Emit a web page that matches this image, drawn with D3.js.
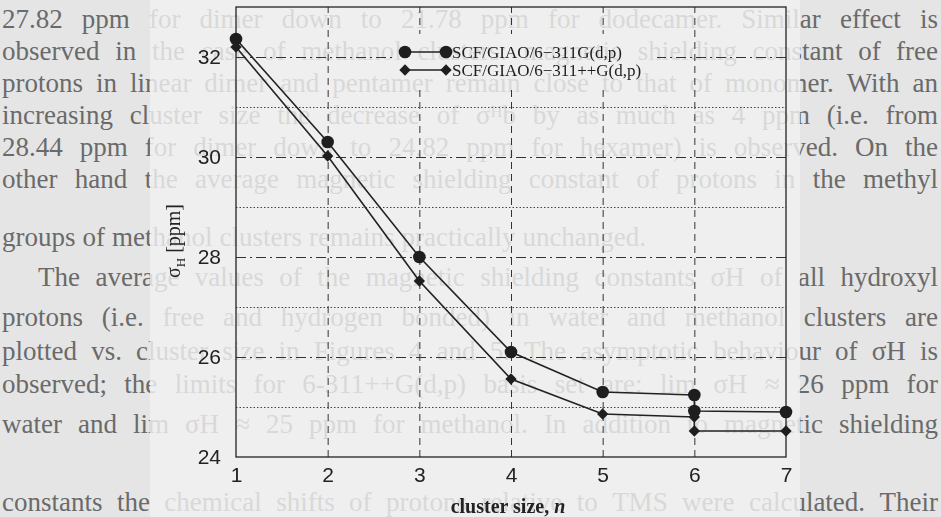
<!DOCTYPE html>
<html>
<head>
<meta charset="utf-8">
<script src="https://cdn.jsdelivr.net/npm/d3@7"></script>
<style>
  html, body { margin: 0; padding: 0; background: #e5e5e5; }
  svg { display: block; }
</style>
</head>
<body>
<div id="chart"></div>
<script>
// cluster size n (n = 6 has two structures, hence two values)
var clusterN = [1, 2, 3, 4, 5, 6, 6, 7];
var sigma311G = [32.36, 30.30, 28.00, 26.10, 25.30, 25.24, 24.92, 24.90];
var sigma311ppG = [32.20, 30.02, 27.52, 25.56, 24.86, 24.80, 24.52, 24.52];
var seriesNames = ["SCF/GIAO/6\u2212311G(d,p)", "SCF/GIAO/6\u2212311++G(d,p)"];

var xTicks = [1, 2, 3, 4, 5, 6, 7];
var xGrid = [2, 3, 4, 5, 6];
var yTicks = [24, 26, 28, 30, 32];
var yMinor = [25, 27, 29, 31];

// page text of the scanned book behind the figure
var pageLines = [
  "27.82 ppm for dimer down to 21.78 ppm for dodecamer. Similar effect is",
  "observed in the case of methanol clusters: magnetic shielding constant of free",
  "protons in linear dimer and pentamer remain close to that of monomer. With an",
  "increasing cluster size the decrease of \u03c3\u1d34b by as much as 4 ppm (i.e. from",
  "28.44 ppm for dimer down to 24.82 ppm for hexamer) is observed. On the",
  "other hand the average magnetic shielding constant of protons in the methyl",
  "groups of methanol clusters remains practically unchanged.",
  "The average values of the magnetic shielding constants \u03c3H of all hydroxyl",
  "protons (i.e. free and hydrogen bonded) in water and methanol clusters are",
  "plotted vs. cluster size in Figures 4 and 5. The asymptotic behaviour of \u03c3H is",
  "observed; the limits for 6-311++G(d,p) basis set are: lim \u03c3H \u2248 26 ppm for",
  "water and lim \u03c3H \u2248 25 ppm for methanol. In addition to magnetic shielding",
  "constants the chemical shifts of protons relative to TMS were calculated. Their"
];
var pageLineY = [28, 60, 92, 124, 156, 188, 246, 286, 326, 360, 393, 433, 511];

var W = 941, H = 517;
var svg = d3.select("#chart").append("svg")
    .attr("width", W)
    .attr("height", H);

svg.append("rect").attr("width", W).attr("height", H).attr("fill", "#e5e5e5");

// background page text, justified by spreading the words
var page = svg.append("g")
    .attr("font-family", "Liberation Serif, serif")
    .attr("fill", "#6a6a6a");

pageLines.forEach(function (line, i) {
  var left = i == 7 ? 38 : 2;
  var right = 938;
  var words = line.split(" ");
  var fs = 27;
  var t = page.append("text").attr("y", pageLineY[i]).attr("font-size", fs + "px");
  var spans = words.map(w => t.append("tspan").text(w));
  var widths = spans.map(s => s.node().getComputedTextLength());
  var total = d3.sum(widths);
  var gap = (i == 6) ? 7 : (right - left - total) / (words.length - 1);
  if (gap < 6) {
    // too long for the line: shrink the font a little
    var k = (right - left - 6 * (words.length - 1)) / total;
    fs = fs * k;
    t.attr("font-size", fs + "px");
    widths = widths.map(w => w * k);
    gap = 6;
  }
  var cx = left;
  spans.forEach(function (s, j) {
    s.attr("x", cx);
    cx += widths[j] + gap;
  });
});

// the figure is pasted lighter over the page
svg.append("rect")
    .attr("x", 150).attr("y", 0)
    .attr("width", 650).attr("height", H)
    .attr("fill", "#f0f0f0")
    .attr("opacity", 0.82);

// scales
var x = d3.scaleLinear().domain([1, 7]).range([236, 786]);
var y = d3.scaleLinear().domain([24, 33]).range([457, 7]);
var plotH = y(24) - y(33);
var plotW = x(7) - x(1);

// legend area is kept free of grid lines
var defs = svg.append("defs");
var mask = defs.append("mask").attr("id", "legendHole");
mask.append("rect").attr("width", W).attr("height", H).attr("fill", "white");
mask.append("rect").attr("x", 393).attr("y", 34).attr("width", 264).attr("height", 54).attr("fill", "black");

var grid = svg.append("g").attr("mask", "url(#legendHole)");

// vertical dashed grid
grid.append("g")
    .attr("transform", "translate(0," + y(24) + ")")
    .call(d3.axisBottom(x).tickValues(xGrid).tickSize(-plotH).tickFormat(""))
    .call(g => g.select(".domain").remove())
    .selectAll(".tick line")
    .attr("stroke", "#333")
    .attr("stroke-dasharray", "7,5");

// dash-dot grid at even values
grid.append("g")
    .attr("transform", "translate(" + x(1) + ",0)")
    .call(d3.axisLeft(y).tickValues([26, 28, 30, 32]).tickSize(-plotW).tickFormat(""))
    .call(g => g.select(".domain").remove())
    .selectAll(".tick line")
    .attr("stroke", "#333")
    .attr("stroke-dasharray", "10,4,2,4");

// dotted grid at odd values
grid.append("g")
    .attr("transform", "translate(" + x(1) + ",0)")
    .call(d3.axisLeft(y).tickValues(yMinor).tickSize(-plotW).tickFormat(""))
    .call(g => g.select(".domain").remove())
    .selectAll(".tick line")
    .attr("stroke", "#444")
    .attr("stroke-dasharray", "1.5,2");

// frame
svg.append("rect")
    .attr("x", x(1)).attr("y", y(33))
    .attr("width", plotW).attr("height", plotH)
    .attr("fill", "none")
    .attr("stroke", "#222")
    .attr("stroke-width", 1.3);

// tick labels
var xAxis = svg.append("g")
    .attr("transform", "translate(0," + y(24) + ")")
    .call(d3.axisBottom(x).tickValues(xTicks).tickSize(0).tickPadding(10).tickFormat(d3.format("d")));
xAxis.select(".domain").remove();
xAxis.selectAll("text")
    .attr("font-family", "Liberation Sans, Arial, sans-serif")
    .attr("font-size", "21px")
    .attr("fill", "#222");

var yAxis = svg.append("g")
    .attr("transform", "translate(" + x(1) + ",0)")
    .call(d3.axisLeft(y).tickValues(yTicks).tickSize(0).tickPadding(15).tickFormat(d3.format("d")));
yAxis.select(".domain").remove();
yAxis.selectAll("text")
    .attr("font-family", "Liberation Sans, Arial, sans-serif")
    .attr("font-size", "21px")
    .attr("fill", "#222");

// axis titles
var yTitle = svg.append("text")
    .attr("transform", "translate(180,241) rotate(-90)")
    .attr("text-anchor", "middle")
    .attr("font-family", "Liberation Serif, serif")
    .attr("font-size", "20px")
    .attr("fill", "#222");
yTitle.append("tspan").text("\u03c3");
yTitle.append("tspan").attr("font-size", "13px").attr("dy", 5).text("H");
yTitle.append("tspan").attr("dy", -5).text(" [ppm]");

var xTitle = svg.append("text")
    .attr("x", 508).attr("y", 513)
    .attr("text-anchor", "middle")
    .attr("font-family", "Liberation Serif, serif")
    .attr("font-size", "20px")
    .attr("font-weight", "bold")
    .attr("fill", "#222");
xTitle.append("tspan").text("cluster size, ");
xTitle.append("tspan").attr("font-style", "italic").text("n");

// series
var series = [
  { name: seriesNames[0], values: sigma311G, shape: "circle" },
  { name: seriesNames[1], values: sigma311ppG, shape: "diamond" }
];

var line = d3.line()
    .x(d => x(d[0]))
    .y(d => y(d[1]));

var diamond = d3.symbol().type(d3.symbolSquare).size(64);

function drawMarker(g, shape, cx, cy) {
  if (shape == "circle") {
    g.append("circle").attr("cx", cx).attr("cy", cy).attr("r", 6.3).attr("fill", "#1e1e1e");
  } else {
    g.append("path").attr("d", diamond())
        .attr("transform", "translate(" + cx + "," + cy + ") rotate(45)")
        .attr("fill", "#1e1e1e");
  }
}

series.forEach(function (s) {
  var pts = clusterN.map((n, i) => [n, s.values[i]]);
  svg.append("path")
      .datum(pts)
      .attr("d", line)
      .attr("fill", "none")
      .attr("stroke", "#222")
      .attr("stroke-width", 1.6);
  var mg = svg.append("g");
  pts.forEach(p => drawMarker(mg, s.shape, x(p[0]), y(p[1])));
});

// legend
var legendY = [52, 70];
series.forEach(function (s, i) {
  var lg = svg.append("g");
  lg.append("line")
      .attr("x1", 405).attr("x2", 446)
      .attr("y1", legendY[i]).attr("y2", legendY[i])
      .attr("stroke", "#222").attr("stroke-width", 1.6);
  drawMarker(lg, s.shape, 405, legendY[i]);
  drawMarker(lg, s.shape, 446, legendY[i]);
  lg.append("text")
      .attr("x", 452).attr("y", legendY[i])
      .attr("dy", "0.35em")
      .attr("font-family", "Liberation Serif, serif")
      .attr("font-size", "17px")
      .attr("fill", "#1e1e1e")
      .text(s.name);
});
</script>
</body>
</html>
